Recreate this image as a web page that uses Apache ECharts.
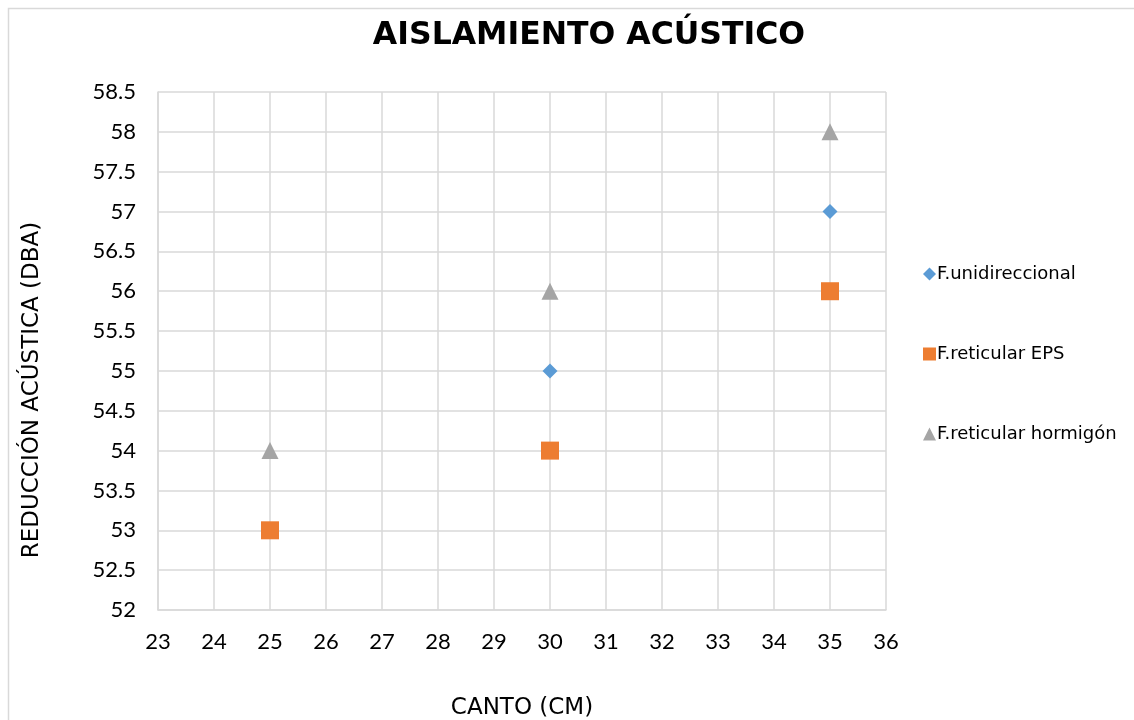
<!DOCTYPE html>
<html><head><meta charset="utf-8">
<script src="https://cdn.jsdelivr.net/npm/echarts@6/dist/echarts.min.js"></script>
<style>html,body{margin:0;padding:0;background:#fff}#c{width:1134px;height:720px}</style>
</head><body><div id="c"></div>
<script>
const titleText = 'AISLAMIENTO ACÚSTICO';
const xName = 'CANTO (CM)';
const yName = 'REDUCCIÓN ACÚSTICA (DBA)';
const seriesNames = ['F.unidireccional', 'F.reticular EPS', 'F.reticular hormigón'];
const unidireccional = [[30, 55], [35, 57]];
const reticularEPS = [[25, 53], [30, 54], [35, 56]];
const reticularHormigon = [[25, 54], [30, 56], [35, 58]];
const FONT = 'Lato, "DejaVu Sans", sans-serif';
const WFONT = '"DejaVu Sans", sans-serif';

const chart = echarts.init(document.getElementById('c'), null, {renderer: 'canvas'});
chart.setOption({
  backgroundColor: '#fff',
  animation: false,
  title: {
    text: titleText, left: 584, top: 15, textAlign: 'center',
    textStyle: {fontFamily: WFONT, fontWeight: 'bold', fontSize: 31.5, color: '#000'}
  },
  graphic: [
    {type: 'rect', shape: {x: 8.5, y: 8.5, width: 1140, height: 720}, style: {fill: 'none', stroke: '#D9D9D9', lineWidth: 1.5}, z: -1},
    {type: 'text', x: 32, y: 390, rotation: Math.PI / 2,
     style: {text: yName, fontFamily: WFONT, fontSize: 23, fill: '#000', align: 'center', verticalAlign: 'middle'}}
  ],
  legend: {
    orient: 'vertical', left: 918, top: 260, itemGap: 62, itemWidth: 13, itemHeight: 13,
    textStyle: {fontFamily: WFONT, fontSize: 18, color: '#000', padding: [0, 0, 0, -4]},
    data: seriesNames
  },
  grid: {left: 158, right: 248, top: 92, bottom: 110, outerBoundsMode: 'none', containLabel: false},
  xAxis: {
    type: 'value', min: 23, max: 36, interval: 1,
    name: xName, nameLocation: 'middle', nameGap: 87,
    nameTextStyle: {fontFamily: WFONT, fontSize: 23, color: '#000'},
    axisLine: {show: true, lineStyle: {color: '#D9D9D9', width: 1.5}},
    axisTick: {show: false},
    axisLabel: {fontFamily: FONT, fontSize: 22, color: '#000', margin: 21},
    splitLine: {show: true, lineStyle: {color: '#D9D9D9', width: 1.5}}
  },
  yAxis: {
    type: 'value', min: 52, max: 58.5, interval: 0.5,
    axisLine: {show: true, lineStyle: {color: '#D9D9D9', width: 1.5}},
    axisTick: {show: false},
    axisLabel: {fontFamily: FONT, fontSize: 22, color: '#000', margin: 22},
    splitLine: {show: true, lineStyle: {color: '#D9D9D9', width: 1.5}}
  },
  series: [
    {name: seriesNames[0], type: 'scatter', data: unidireccional, symbol: 'diamond', symbolSize: 15,
     itemStyle: {color: '#5B9BD5', opacity: 1}, z: 3},
    {name: seriesNames[1], type: 'scatter', data: reticularEPS, symbol: 'rect', symbolSize: 18,
     itemStyle: {color: '#ED7D31', opacity: 1}, z: 4},
    {name: seriesNames[2], type: 'scatter', data: reticularHormigon, symbol: 'triangle', symbolSize: 17,
     itemStyle: {color: '#A5A5A5', opacity: 1}, z: 5}
  ]
});
</script></body></html>
